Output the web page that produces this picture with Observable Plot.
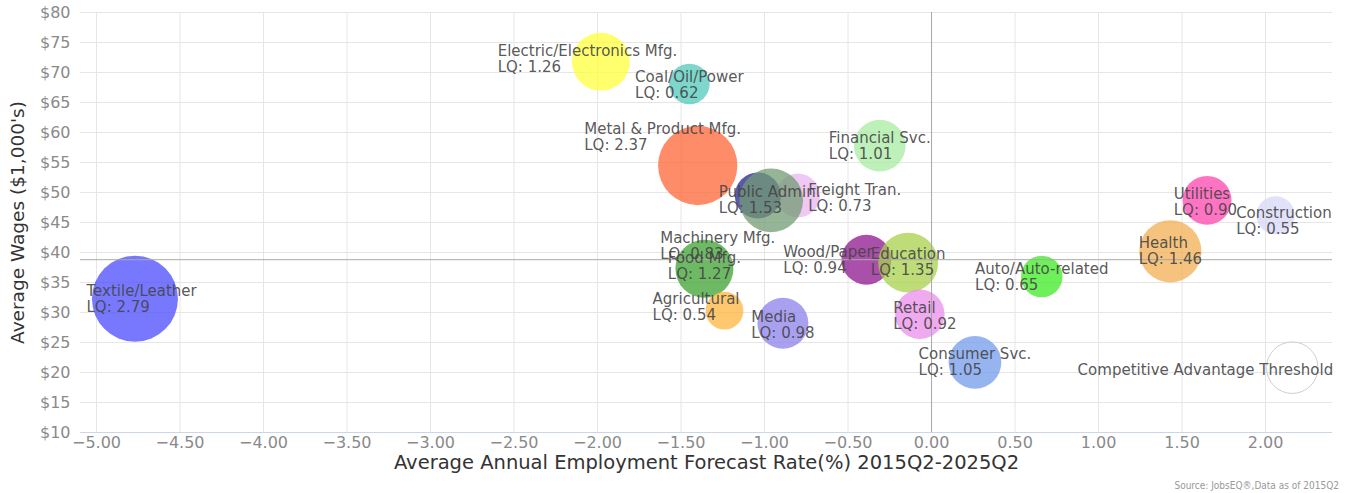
<!DOCTYPE html>
<html>
<head>
<meta charset="utf-8">
<script src="https://cdn.jsdelivr.net/npm/d3@7"></script>
<script src="https://cdn.jsdelivr.net/npm/@observablehq/plot@0.6"></script>
<style>
  html, body { margin: 0; padding: 0; background: #fff; }
  #wrap { position: relative; width: 1345px; height: 493px; }
  #source { position: absolute; right: 6px; bottom: 2px; font: 10px "DejaVu Sans Condensed", "DejaVu Sans", sans-serif; color: #999; }
</style>
</head>
<body>
<div id="wrap"><div id="chart"></div><div id="source">Source: JobsEQ®,Data as of 2015Q2</div></div>
<script>
// ---- data ----
const names = ["Textile/Leather", "Electric/Electronics Mfg.", "Coal/Oil/Power", "Metal & Product Mfg.",
  "Freight Tran.", "Other", "Public Admin.", "Financial Svc.", "Machinery Mfg.", "Food Mfg.",
  "Agricultural", "Media", "Wood/Paper", "Education", "Retail", "Consumer Svc.", "Auto/Auto-related",
  "Health", "Utilities", "Construction", "Competitive Advantage Threshold"];
const forecastRates = [-4.77, -1.98, -1.45, -1.40, -0.80, -1.04, -0.96, -0.31, -1.36, -1.36,
  -1.24, -0.89, -0.39, -0.14, -0.07, 0.26, 0.66, 1.43, 1.65, 2.06, 2.16];
const avgWages = [32.3, 71.8, 68.1, 54.5, 49.5, 49.5, 48.7, 57.8, 37.3, 37.3,
  30.3, 28.2, 38.8, 38.3, 29.7, 21.7, 36.0, 40.2, 48.7, 46.2, 20.8];
const lqs = [2.79, 1.26, 0.62, 2.37, 0.73, 0.80, 1.53, 1.01, 0.83, 1.27,
  0.54, 0.98, 0.94, 1.35, 0.92, 1.05, 0.65, 1.46, 0.90, 0.55, 1.00];
// where each data label sits (data units)
const labelRates = [-4.73, -2.06, -1.45, -1.61, -0.46, null, -0.97, -0.31, -1.28, -1.36,
  -1.41, -0.89, -0.62, -0.14, -0.04, 0.26, 0.66, 1.43, 1.64, 2.11, 1.64];
const labelWages = [32.2, 72.3, 67.9, 59.2, 49.1, null, 48.8, 57.8, 41.1, 37.7,
  31.0, 28.0, 38.8, 38.4, 29.5, 21.7, 36.0, 40.2, 48.5, 45.2, 20.5];
// apparent colours on white
const palette = ["#7878ff", "#ffff6e", "#7dd7cd", "#ff8c69", "#f0c8f5", "#5a5aaa", "#96b496", "#bef0b9",
  "#6eb964", "#6eb964", "#ffc86e", "#aaa0f0", "#aa50aa", "#bedc78", "#f0aaf0", "#96b4f0", "#6ef05a",
  "#f5c37d", "#ff73c3", "#e1e1fa", "#ffffff"];
const xTicks = d3.range(-5, 2.01, 0.5);
const yTicks = d3.range(10, 80.01, 5);
const zeroRate = 0;
const avgWageLine = 38.8;
const thresholdName = "Competitive Advantage Threshold";
const hiddenBubble = "Machinery Mfg.";
const hiddenLabel = "Other";

const alpha = 0.75;
const baseColor = c => {
  const k = d3.rgb(c);
  const f = v => Math.max(0, Math.min(255, (v - (1 - alpha) * 255) / alpha));
  return d3.rgb(f(k.r), f(k.g), f(k.b)).formatHex();
};

const data = names.map((name, i) => ({
  name, rate: forecastRates[i], wage: avgWages[i], lq: lqs[i],
  lrate: labelRates[i], lwage: labelWages[i]
}));

const labelSize = 15;
const ctx = document.createElement("canvas").getContext("2d");
ctx.font = `${labelSize}px "DejaVu Sans"`;
const labelText = d => d.name === thresholdName ? d.name : `${d.name}\nLQ: ${d.lq.toFixed(2)}`;
const blockWidth = d => d3.max(labelText(d).split("\n"), s => ctx.measureText(s).width);

const bubbles = data.filter(d => d.name !== thresholdName && d.name !== hiddenBubble);
const threshold = data.filter(d => d.name === thresholdName);
const labelled = data.filter(d => d.name !== hiddenLabel);

const chart = Plot.plot({
  width: 1345,
  height: 493,
  marginTop: 12,
  marginBottom: 61,
  marginLeft: 80,
  marginRight: 13,
  style: { fontFamily: '"DejaVu Sans", sans-serif', background: "#fff" },
  x: { domain: [-5.096, 2.401], ticks: xTicks, tickFormat: d3.format(".2f"), label: null },
  y: { domain: [10, 80], ticks: yTicks, tickFormat: d => `$${d}`, label: null },
  r: { type: "sqrt", domain: [0, 2.79], range: [0, 43] },
  color: { domain: names, range: palette.map(baseColor) },
  marks: [
    Plot.gridX(xTicks, { stroke: "#e6e6e6", strokeOpacity: 1 }),
    Plot.gridY(yTicks, { stroke: "#e6e6e6", strokeOpacity: 1 }),
    Plot.ruleY([10], { stroke: "#ccd6eb" }),
    Plot.axisX(xTicks, { tickSize: 0, tickPadding: 4, fontSize: 16, fill: "#8a8a8a", tickFormat: d3.format(".2f") }),
    Plot.axisY(yTicks, { tickSize: 0, tickPadding: 10, fontSize: 16, fill: "#8a8a8a", tickFormat: d => `$${d}` }),
    Plot.dot(bubbles, { x: "rate", y: "wage", r: "lq", fill: "name", fillOpacity: alpha, stroke: null, sort: null }),
    Plot.dot(threshold, { x: "rate", y: "wage", r: "lq", fill: "none", stroke: "#cfcfcf", strokeWidth: 1 }),
    Plot.ruleX([zeroRate], { stroke: "#a8a8a8", strokeWidth: 1 }),
    Plot.ruleY([avgWageLine], { stroke: "#a8a8a8", strokeWidth: 1 }),
    ...labelled.map(d => Plot.text([d], {
      x: "lrate", y: "lwage", text: labelText, textAnchor: "start", lineAnchor: "middle",
      dx: -blockWidth(d) / 2, fontSize: labelSize, lineHeight: 1.07, fill: "#444", fillOpacity: 0.9
    })),
    Plot.text(["Average Wages ($1,000's)"], { frameAnchor: "left", textAnchor: "middle", rotate: -90, dx: -62, fontSize: 18.5, fill: "#333" }),
    Plot.text(["Average Annual Employment Forecast Rate(%) 2015Q2-2025Q2"], { frameAnchor: "bottom", textAnchor: "middle", dy: 36, fontSize: 19.5, fill: "#333" })
  ]
});
document.getElementById("chart").appendChild(chart);
</script>
</body>
</html>
